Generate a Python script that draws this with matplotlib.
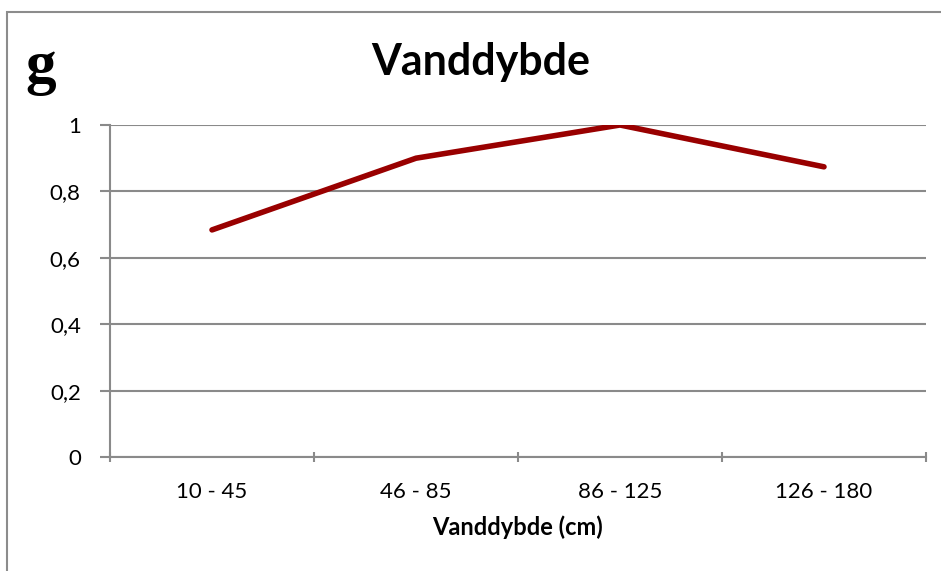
import matplotlib.pyplot as plt
from matplotlib.patches import Rectangle

categories = ["10 - 45", "46 - 85", "86 - 125", "126 - 180"]
values = [0.684, 0.90, 1.0, 0.874]
y_ticks = [0, 0.2, 0.4, 0.6, 0.8, 1.0]

W, H = 941, 571
fig = plt.figure(figsize=(W / 100, H / 100), dpi=100)
plt.rcParams['font.family'] = ['Lato', 'DejaVu Sans']

# outer chart border (cut off at right and bottom)
fig.patches.append(Rectangle((7 / W, -0.1), 2, 1.1 - 12 / H, transform=fig.transFigure,
                             fill=False, edgecolor='#8c8c8c', linewidth=1.5))

ax = fig.add_axes([110 / W, (H - 457) / H, (926 - 110) / W, (457 - 125) / H])
grey = '#8a8a8a'

x = [i + 0.5 for i in range(len(categories))]
ax.plot(x, values, color='#990000', linewidth=4, solid_capstyle='round', solid_joinstyle='round',
        zorder=3)

ax.set_xlim(0, len(categories))
ax.set_ylim(0, 1)
ax.set_yticks(y_ticks)
ax.set_yticklabels([f"{v:g}".replace('.', ',') for v in y_ticks], fontsize=16)
ax.set_xticks(range(len(categories) + 1))
ax.set_xticklabels([])
ax.set_xticks(x, minor=True)
ax.set_xticklabels(categories, minor=True, fontsize=16)
ax.tick_params(axis='x', which='minor', length=0, pad=18)
ax.tick_params(axis='x', which='major', length=7, color=grey, width=1.5, direction='inout')
ax.tick_params(axis='y', length=7, color=grey, width=1.5, pad=14)
ax.yaxis.grid(True, color=grey, linewidth=1.5)
ax.set_axisbelow(True)
for s in ['top', 'right']:
    ax.spines[s].set_visible(False)
for s in ['left', 'bottom']:
    ax.spines[s].set_color(grey)
    ax.spines[s].set_linewidth(1.5)

ax.set_xlabel("Vanddybde (cm)", fontsize=17, fontweight='bold', labelpad=10)
fig.text(481 / W, 1 - 62 / H, "Vanddybde", ha='center', va='center', fontsize=31, fontweight='bold')
fig.text(25 / W, 1 - 68 / H, "g", ha='left', va='center', fontsize=44, fontweight='bold',
         family=['Liberation Serif', 'DejaVu Serif'])

fig.savefig("out.png", dpi=100)
